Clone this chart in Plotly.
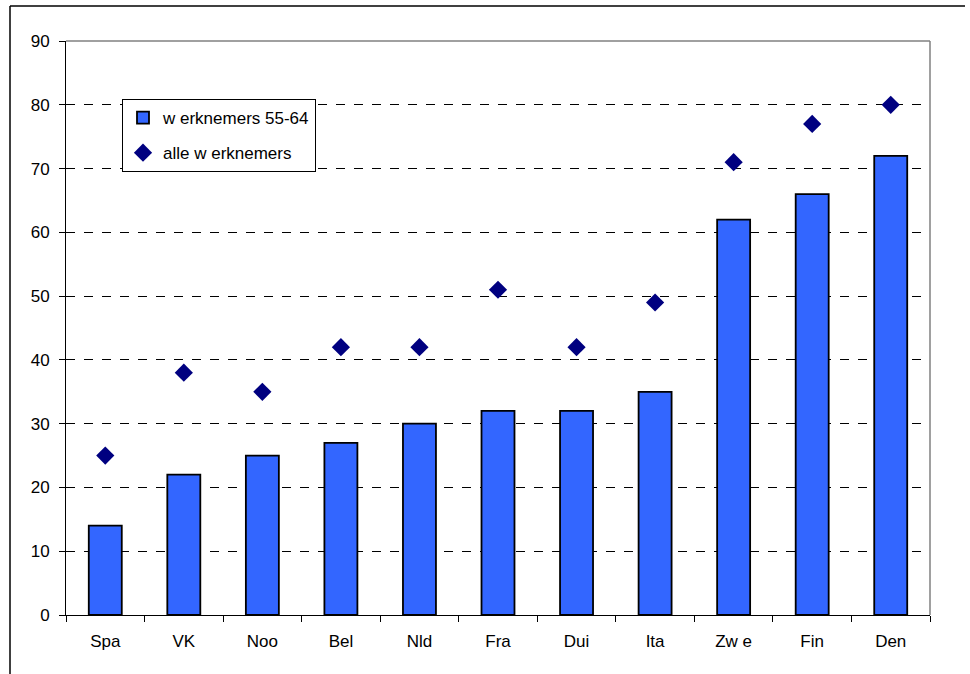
import plotly.graph_objects as go

categories = ["Spa", "VK", "Noo", "Bel", "Nld", "Fra", "Dui", "Ita", "Zw e", "Fin", "Den"]
werknemers_55_64 = [14, 22, 25, 27, 30, 32, 32, 35, 62, 66, 72]
alle_werknemers = [25, 38, 35, 42, 42, 51, 42, 49, 71, 77, 80]
y_ticks = [0, 10, 20, 30, 40, 50, 60, 70, 80, 90]

W, H = 970, 674
L, R, T, B = 66, 40, 41, 59
pw, ph = W - L - R, H - T - B

def px(x):
    return (x - L) / pw

def py(y):
    return (H - B - y) / ph

fig = go.Figure()
fig.add_trace(go.Bar(
    x=categories, y=werknemers_55_64, name="w erknemers 55-64",
    marker=dict(color="#3366FF", line=dict(color="black", width=1.8)),
    legendgroup="a",
))
fig.add_trace(go.Scatter(
    x=categories, y=alle_werknemers, name="alle w erknemers", mode="markers",
    marker=dict(symbol="diamond", size=14, color="#000080"),
    legendgroup="b",
))

fig.update_layout(
    width=W, height=H,
    margin=dict(l=L, r=R, t=T, b=B),
    paper_bgcolor="white", plot_bgcolor="white",
    font=dict(family="Liberation Sans, Arial", size=17, color="black"),
    bargap=0.58,
    legend=dict(
        x=px(122), y=py(99), xanchor="left", yanchor="top",
        bordercolor="black", borderwidth=1, bgcolor="white",
        traceorder="grouped", tracegroupgap=10,
        font=dict(size=17),
    ),
    xaxis=dict(
        showline=True, linecolor="black", linewidth=1,
        ticks="outside", tickson="boundaries", ticklen=6, tickcolor="black",
        showgrid=False, range=[-0.5, 10.5], ticklabelstandoff=11,
    ),
    yaxis=dict(
        range=[0, 90], tickvals=y_ticks, showline=True, linecolor="black", linewidth=1,
        ticks="outside", ticklen=6, tickcolor="black",
        showgrid=True, gridcolor="black", gridwidth=1, griddash="dash",
        zeroline=False, ticklabelstandoff=6,
    ),
    shapes=[
        dict(type="line", xref="paper", yref="paper", x0=0, x1=1, y0=1, y1=1,
             line=dict(color="#808080", width=1.5)),
        dict(type="line", xref="paper", yref="paper", x0=1, x1=1, y0=0, y1=1,
             line=dict(color="#808080", width=1.5)),
        dict(type="line", xref="paper", yref="paper", x0=px(10), x1=px(10), y0=py(6), y1=py(680),
             line=dict(color="black", width=1.5)),
        dict(type="line", xref="paper", yref="paper", x0=px(10), x1=px(965), y0=py(6), y1=py(6),
             line=dict(color="black", width=1.5)),
    ],
)

fig.write_html("out.html", config={"displayModeBar": False},
               post_script="document.body.style.margin='0';document.body.style.overflow='hidden';")
